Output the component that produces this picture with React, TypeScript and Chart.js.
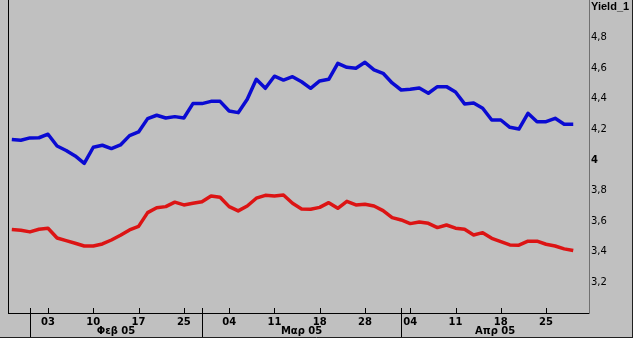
import { useEffect, useRef } from "react";
import { Chart, registerables } from "chart.js";

Chart.register(...registerables);

// Trading-day series (index 0 = 28 Jan 2005 ... index 62 = 28 Apr 2005)
const blueYield = [
  4.134, 4.129, 4.144, 4.145, 4.168, 4.091, 4.062, 4.026, 3.978, 4.083,
  4.096, 4.074, 4.098, 4.159, 4.183, 4.27, 4.292, 4.274, 4.283, 4.274,
  4.368, 4.368, 4.383, 4.383, 4.32, 4.309, 4.396, 4.527, 4.468, 4.547,
  4.522, 4.544, 4.511, 4.468, 4.516, 4.527, 4.631, 4.605, 4.599, 4.638,
  4.588, 4.566, 4.503, 4.457, 4.462, 4.47, 4.436, 4.479, 4.479, 4.444,
  4.366, 4.372, 4.338, 4.261, 4.261, 4.213, 4.202, 4.305, 4.25, 4.25,
  4.272, 4.233, 4.233,
];
const redYield = [
  3.546, 3.541, 3.53, 3.547, 3.554, 3.49, 3.473, 3.456, 3.438, 3.438,
  3.451, 3.477, 3.508, 3.543, 3.566, 3.656, 3.688, 3.695, 3.724, 3.706,
  3.717, 3.727, 3.765, 3.756, 3.695, 3.667, 3.699, 3.75, 3.769, 3.765,
  3.771, 3.717, 3.68, 3.678, 3.69, 3.721, 3.684, 3.73, 3.706, 3.711,
  3.699, 3.669, 3.623, 3.608, 3.584, 3.595, 3.586, 3.558, 3.575, 3.554,
  3.547, 3.51, 3.525, 3.488, 3.466, 3.445, 3.443, 3.469, 3.469, 3.449,
  3.438, 3.419, 3.408,
];

const weekTickIndex = [4, 9, 14, 19, 24, 29, 34, 39, 44, 49, 54, 59];
const weekTickLabels = ["03", "10", "17", "25", "04", "11", "18", "28", "04", "11", "18", "25"];
const monthStartIndex = [2, 21, 43];
const monthLabels = ["Φεβ 05", "Μαρ 05", "Απρ 05"];
const yTickValues = [3.2, 3.4, 3.6, 3.8, 4.0, 4.2, 4.4, 4.6, 4.8, 5.0];
const axisTitle = "Yield_1";

const FONT = "'DejaVu Sans', 'Liberation Sans', sans-serif";
const TITLE_FONT = "'Liberation Sans', 'DejaVu Sans', sans-serif";

const framePlugin = {
  id: "frame",
  beforeDraw(chart: any) {
    const { ctx, width, height } = chart;
    ctx.save();
    ctx.fillStyle = "#c0c0c0";
    ctx.fillRect(0, 0, width, height);
    ctx.restore();
  },
  afterDraw(chart: any) {
    const { ctx, chartArea, width, height } = chart;
    const xs = chart.scales.x;
    const line = (x1: number, y1: number, x2: number, y2: number) => {
      ctx.beginPath();
      ctx.moveTo(x1, y1);
      ctx.lineTo(x2, y2);
      ctx.stroke();
    };
    ctx.save();
    ctx.lineWidth = 1;
    ctx.strokeStyle = "#000";
    const left = Math.round(chartArea.left) + 0.5;
    const bottom = Math.round(chartArea.bottom);
    line(left, 0, left, bottom);
    weekTickIndex.forEach((i) => {
      const x = Math.round(xs.getPixelForValue(i)) + 0.5;
      line(x, bottom - 5, x, bottom);
    });
    monthStartIndex.forEach((i) => {
      const x = Math.round(xs.getPixelForValue(i)) + 0.5;
      line(x, bottom - 5, x, height);
    });
    ctx.fillStyle = "#000";
    ctx.font = "bold 10px " + FONT;
    ctx.textAlign = "center";
    ctx.textBaseline = "middle";
    monthLabels.forEach((lab, k) => {
      const a = xs.getPixelForValue(monthStartIndex[k]);
      const b = k + 1 < monthStartIndex.length ? xs.getPixelForValue(monthStartIndex[k + 1]) : chartArea.right;
      ctx.fillText(lab, (a + b) / 2, height - 7);
    });
    ctx.strokeStyle = "#202020";
    line(width - 0.5, 0, width - 0.5, height);
    line(0, height - 0.5, width, height - 0.5);
    ctx.restore();
  },
};

export default function App() {
  const ref = useRef<HTMLCanvasElement | null>(null);
  useEffect(() => {
    document.body.style.margin = "0";
    const canvas = ref.current;
    if (!canvas) return;
    const chart = new Chart(canvas, {
      type: "line",
      data: {
        datasets: [
          {
            label: "Blue",
            data: blueYield.map((v, i) => ({ x: i, y: v })),
            borderColor: "#0a0ad2",
            borderWidth: 3.5,
            pointRadius: 0,
            borderJoinStyle: "round",
            tension: 0,
          },
          {
            label: "Red",
            data: redYield.map((v, i) => ({ x: i, y: v })),
            borderColor: "#dc1414",
            borderWidth: 3.5,
            pointRadius: 0,
            borderJoinStyle: "round",
            tension: 0,
          },
        ],
      },
      options: {
        animation: false,
        responsive: false,
        devicePixelRatio: 1,
        layout: { padding: { left: 8, top: 0, right: 0, bottom: 0 } },
        plugins: { legend: { display: false }, tooltip: { enabled: false } },
        scales: {
          x: {
            type: "linear",
            position: "bottom",
            min: -0.42,
            max: 63.74,
            bounds: "data",
            afterBuildTicks: (scale: any) => {
              scale.ticks = weekTickIndex.map((v) => ({ value: v }));
            },
            afterFit: (scale: any) => {
              scale.height = 25;
              scale.paddingLeft = 0;
              scale.paddingRight = 0;
            },
            ticks: {
              autoSkip: false,
              maxRotation: 0,
              padding: 3,
              color: "#000",
              font: { family: FONT, size: 10, weight: "bold" },
              callback: (value: any) => {
                const k = weekTickIndex.indexOf(Number(value));
                return k >= 0 ? weekTickLabels[k] : "";
              },
            },
            grid: { drawOnChartArea: false, drawTicks: false },
            border: { display: true, color: "#000", width: 1 },
          },
          y: {
            type: "linear",
            position: "right",
            min: 3.0,
            max: 5.045,
            afterBuildTicks: (scale: any) => {
              scale.ticks = yTickValues.map((v) => ({ value: v }));
            },
            afterFit: (scale: any) => {
              scale.width = 44;
              scale.paddingTop = 0;
              scale.paddingBottom = 0;
            },
            ticks: {
              padding: 2,
              color: "#000",
              font: (c: any) => {
                const v = c.tick ? c.tick.value : 0;
                const isTitle = Math.abs(v - 5) < 1e-9;
                const isFour = Math.abs(v - 4) < 1e-9;
                return {
                  family: isTitle ? TITLE_FONT : FONT,
                  size: isTitle ? 11 : 10,
                  weight: isTitle || isFour ? "bold" : "normal",
                };
              },
              callback: (value: any) => {
                const v = Number(value);
                if (Math.abs(v - 5) < 1e-9) return axisTitle;
                return String(+v.toFixed(1)).replace(".", ",");
              },
            },
            grid: { drawOnChartArea: false, drawTicks: false },
            border: { display: true, color: "#707070", width: 1 },
          },
        },
      },
      plugins: [framePlugin],
    } as any);
    return () => chart.destroy();
  }, []);
  return (
    <div style={{ width: 633, height: 338 }}>
      <canvas ref={ref} width={633} height={338} style={{ display: "block" }} />
    </div>
  );
}
